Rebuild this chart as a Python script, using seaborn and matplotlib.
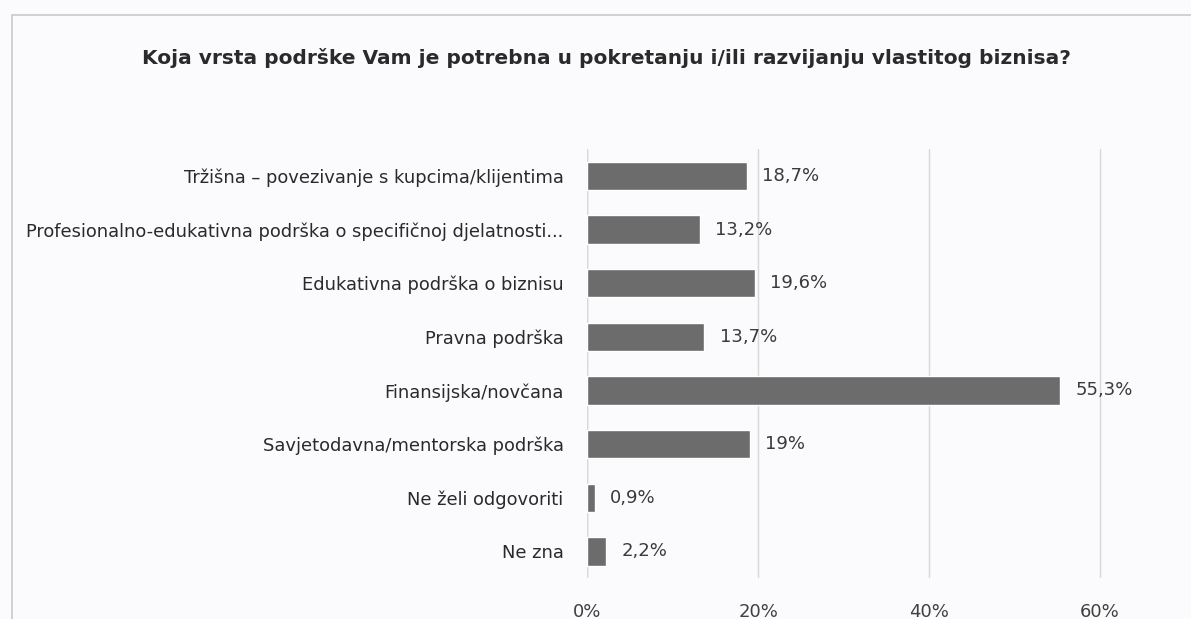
import matplotlib
matplotlib.use("Agg")
import matplotlib.pyplot as plt
import matplotlib.patches as mpatches
import seaborn as sns
import pandas as pd

categories = [
    "Tržišna – povezivanje s kupcima/klijentima",
    "Profesionalno-edukativna podrška o specifičnoj djelatnosti...",
    "Edukativna podrška o biznisu",
    "Pravna podrška",
    "Finansijska/novčana",
    "Savjetodavna/mentorska podrška",
    "Ne želi odgovoriti",
    "Ne zna",
]
values = [18.7, 13.2, 19.6, 13.7, 55.3, 19.0, 0.9, 2.2]
value_labels = ["18,7%", "13,2%", "19,6%", "13,7%", "55,3%", "19%", "0,9%", "2,2%"]
xticks = [0, 20, 40, 60]
xtick_labels = ["0%", "20%", "40%", "60%"]
title = "Koja vrsta podrške Vam je potrebna u pokretanju i/ili razvijanju vlastitog biznisa?"

sns.set_theme(style="white")
plt.rcParams['font.family'] = ['DejaVu Sans']

bg = "#fbfafc"
fig = plt.figure(figsize=(11.91, 6.19), dpi=100, facecolor=bg)
ax = fig.add_axes([0.493, 0.066, 0.488, 0.693], facecolor=bg)

df = pd.DataFrame({"cat": categories, "val": values})
sns.barplot(data=df, x="val", y="cat", orient="h", color="#6c6c6c",
            saturation=1, width=0.53, ax=ax)

ax.set_xlim(0, 68)
ax.set_ylim(len(categories) - 0.5, -0.5)
ax.set_xticks(xticks)
ax.set_xticklabels(xtick_labels, fontsize=13, color="#404040")
ax.tick_params(axis="x", length=0, pad=18)
ax.tick_params(axis="y", length=0, pad=17, labelsize=12.9, labelcolor="#2a2a2a")
ax.set_xlabel("")
ax.set_ylabel("")
ax.grid(axis="x", color="#d8d8d8", linewidth=1)
ax.set_axisbelow(True)
for s in ax.spines.values():
    s.set_visible(False)
ax.axvline(0, color="#d0d0d0", linewidth=1, zorder=0)

for i, (v, lab) in enumerate(zip(values, value_labels)):
    ax.annotate(lab, xy=(v, i), xytext=(11, 0), textcoords="offset points",
                va="center", ha="left", fontsize=13, color="#3a3a3a")

fig.text(0.509, 0.906, title, ha="center", va="center", fontsize=14.5,
         color="#2a2a2a", fontweight="bold")

fig.add_artist(mpatches.Rectangle((0.010, -0.2), 1.2, 0.975 + 0.2,
                                  transform=fig.transFigure, fill=False,
                                  edgecolor="#c9c9c9", linewidth=1.2))

fig.savefig("out.png", dpi=100, facecolor=bg)
